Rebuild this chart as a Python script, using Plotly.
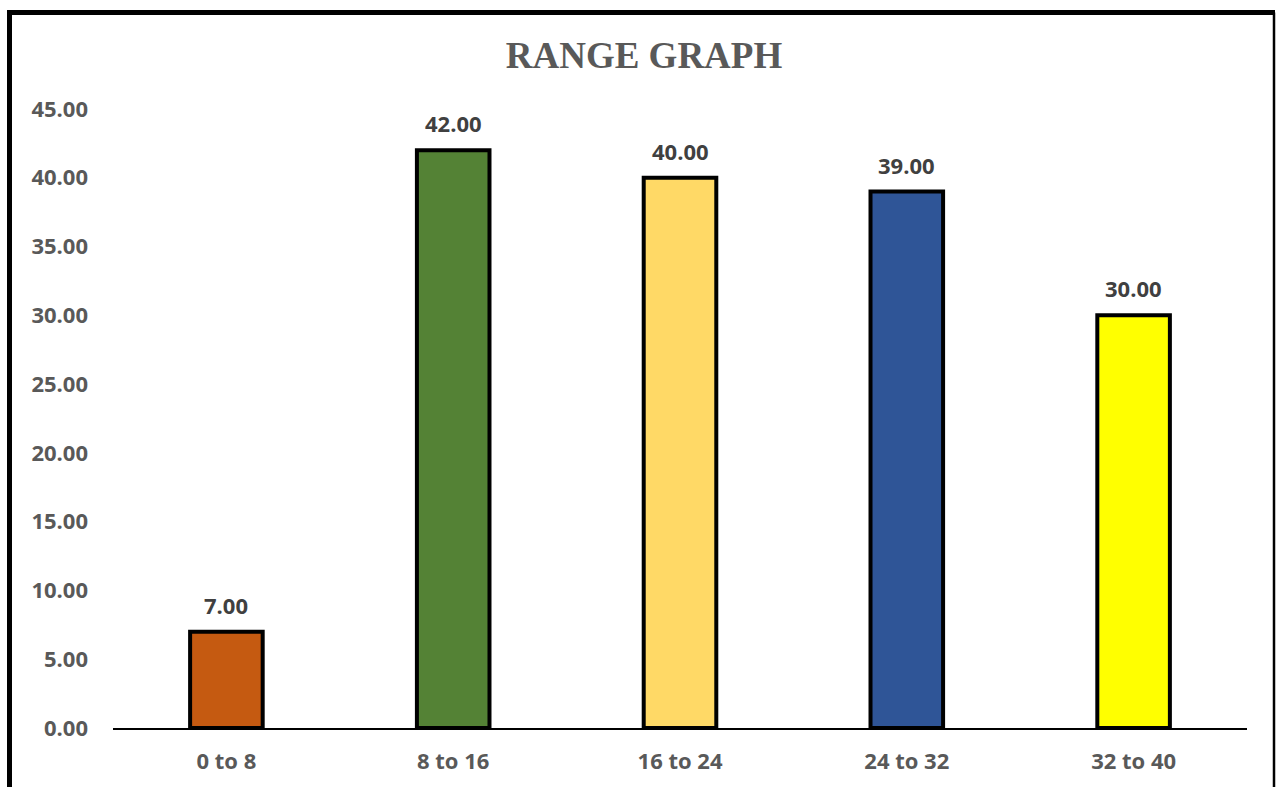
import plotly.graph_objects as go

# Range buckets and their counts
categories = ["0 to 8", "8 to 16", "16 to 24", "24 to 32", "32 to 40"]
values = [7, 42, 40, 39, 30]
bar_colors = ["#C55A11", "#548235", "#FFD966", "#2F5597", "#FFFF00"]
tick_values = [0, 5, 10, 15, 20, 25, 30, 35, 40, 45]

W, H = 1276, 787
L, R, T, B = 113, 29, 109, 59
plot_w = W - L - R
plot_h = H - T - B

LABEL_FONT = dict(family="Open Sans", size=22, color="#595959", weight="bold")


def px_x(x):
    return (x - L) / plot_w


def px_y(y):
    return (H - B - y) / plot_h


fig = go.Figure(
    go.Bar(
        x=categories,
        y=values,
        marker=dict(color=bar_colors, line=dict(color="black", width=4)),
        width=0.32,
    )
)

# Value labels above each bar
for cat, v in zip(categories, values):
    fig.add_annotation(
        x=cat,
        y=v,
        text=f"{v:.2f}",
        showarrow=False,
        yanchor="middle",
        yshift=27,
        font=dict(family="Open Sans", size=22, color="#404040", weight="bold"),
    )

fig.update_layout(
    width=W,
    height=H,
    margin=dict(l=L, r=R, t=T, b=B, pad=0),
    paper_bgcolor="white",
    plot_bgcolor="white",
    showlegend=False,
    title=dict(
        text="<b>RANGE GRAPH</b>",
        x=px_x(644),
        xref="paper",
        xanchor="center",
        y=1 - 55 / H,
        yanchor="middle",
        font=dict(family="Liberation Serif", size=37, color="#595959"),
    ),
    xaxis=dict(
        showgrid=False,
        showline=True,
        linecolor="black",
        linewidth=1.5,
        ticks="",
        tickfont=LABEL_FONT,
        ticklabelstandoff=13,
    ),
    yaxis=dict(
        range=[0, 45],
        tickvals=tick_values,
        tickformat=".2f",
        showgrid=False,
        zeroline=False,
        showline=False,
        ticks="",
        tickfont=LABEL_FONT,
        ticklabelstandoff=24,
    ),
)

# Outer frame: heavy top and left edges, thin right edge
frame = [
    (9.5, 12.5, 9.5, 800, 5),
    (7, 12.5, 1275, 12.5, 5),
    (1274, 12.5, 1274, 800, 2.5),
]
for x0, y0, x1, y1, w in frame:
    fig.add_shape(
        type="line",
        xref="paper",
        yref="paper",
        x0=px_x(x0),
        y0=px_y(y0),
        x1=px_x(x1),
        y1=px_y(y1),
        line=dict(color="black", width=w),
        layer="above",
    )

fig.write_html("out.html")
